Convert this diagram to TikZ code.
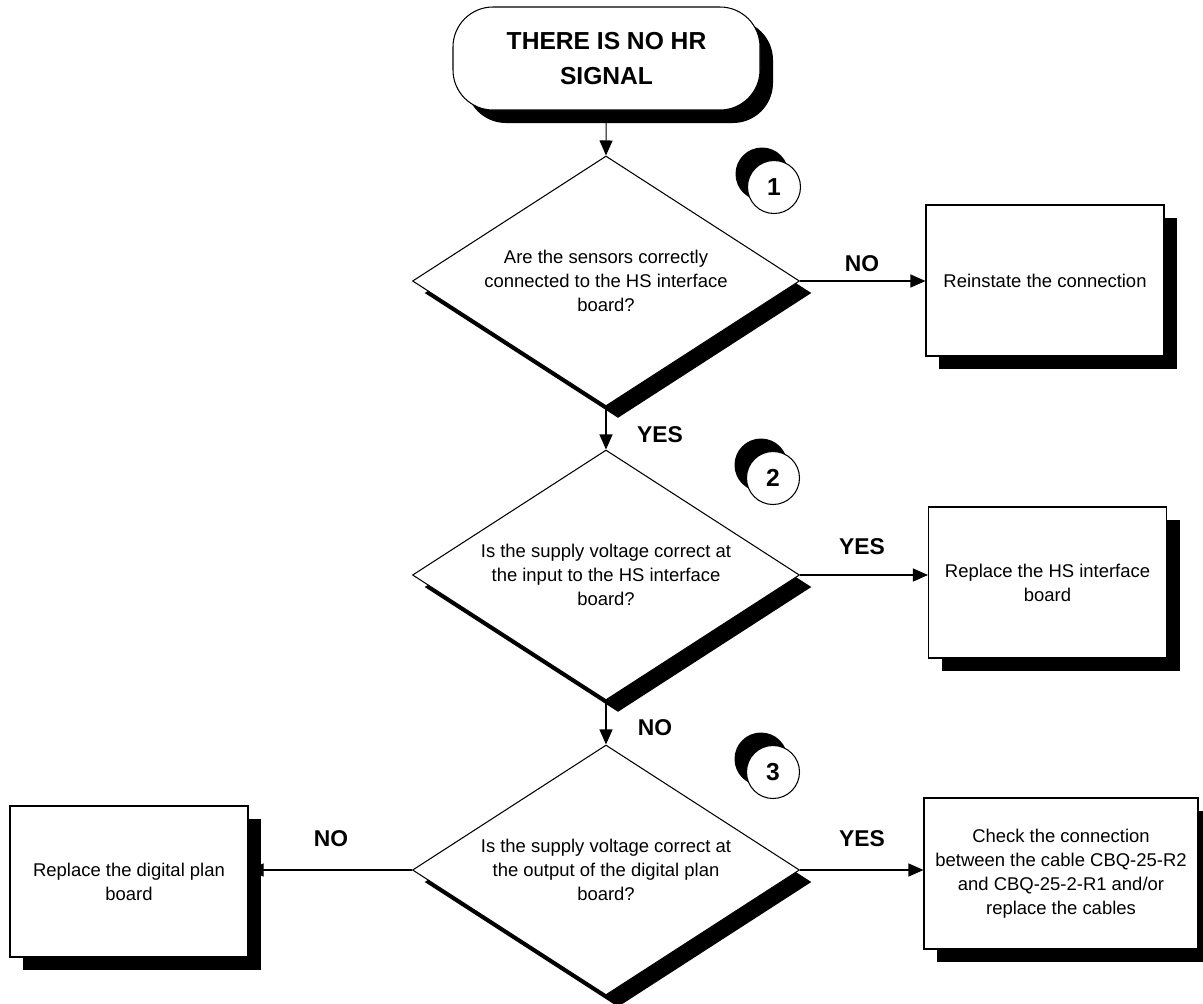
\documentclass[tikz,border=0pt]{standalone}
\usepackage{fontspec}
\setmainfont{Liberation Sans}
\usepackage{tikz}
\usetikzlibrary{shapes.geometric,shadows,arrows.meta}

\begin{document}
\begin{tikzpicture}[
    line width=0.6pt,
    castshadow/.style={drop shadow={shadow xshift=#1, shadow yshift=-#1,
                       fill=black, opacity=1}},
    castshadow/.default=0.26cm,
    start/.style={draw, fill=white, rounded corners=0.8cm, minimum width=6.14cm,
                  minimum height=2.06cm, align=center, castshadow,
                  font=\fontsize{14}{20}\selectfont\bfseries},
    ask/.style={draw, diamond, aspect=1.54, fill=white, minimum width=7.74cm,
                minimum height=5.0cm, inner sep=0pt, align=center, castshadow=0.24cm,
                font=\fontsize{10.5}{13.7}\selectfont},
    box/.style={draw, fill=white, minimum width=#1, minimum height=3.02cm,
                align=center, castshadow, font=\fontsize{10.5}{13.7}\selectfont},
    box/.default=4.76cm,
    num/.style={draw, circle, fill=white, minimum size=1.06cm, inner sep=0pt,
                drop shadow={shadow xshift=-0.24cm, shadow yshift=0.26cm,
                             fill=black, opacity=1},
                font=\fontsize{14}{16}\selectfont\bfseries},
    answer/.style={font=\fontsize{13}{15}\selectfont\bfseries},
    arrow/.style={-{Triangle[length=0.3cm, width=0.26cm]}}
]
    \useasboundingbox (0,0) rectangle (24.06,-20.08);

    % --- Start ---
    \node[start] (nosignal) at (12.13, -1.17) {THERE IS NO HR\\SIGNAL};

    % --- Question 1 ---
    \node[ask] (sensors) at (12.12, -5.62) {Are the sensors correctly\\connected to the HS interface\\board?};
    \node[num] (numA) at (15.48, -3.74) {1};
    \node[box] (reinstate) at (20.9, -5.61) {Reinstate the connection};
    \node[answer] (noA) at (17.24, -5.28) {NO};
    \node[answer] (yesA) at (13.2, -8.7) {YES};

    % --- Question 2 ---
    \node[ask] (inputV) at (12.12, -11.5) {Is the supply voltage correct at\\the input to the HS interface\\board?};
    \node[num] (numB) at (15.46, -9.56) {2};
    \node[box] (hsboard) at (20.95, -11.65) {Replace the HS interface\\board};
    \node[answer] (yesB) at (17.24, -10.94) {YES};
    \node[answer] (noB) at (13.1, -14.56) {NO};

    % --- Question 3 ---
    \node[ask] (outputV) at (12.12, -17.4) {Is the supply voltage correct at\\the output of the digital plan\\board?};
    \node[num] (numC) at (15.46, -15.44) {3};
    \node[box] (planboard) at (2.58, -17.63) {Replace the digital plan\\board};
    \node[box=5.48cm] (cables) at (21.22, -17.47) {Check the connection\\between the cable CBQ-25-R2\\and CBQ-25-2-R1 and/or\\replace the cables};
    \node[answer] (noC) at (6.62, -16.78) {NO};
    \node[answer] (yesC) at (17.24, -16.78) {YES};

    % --- Flow ---
    \draw[arrow] (nosignal) -- (sensors.north);
    \draw[arrow] (sensors.east) -- (sensors.east -| reinstate.west);
    \draw[arrow] (sensors.south) -- (inputV.north);
    \draw[arrow] (inputV.east) -- (inputV.east -| hsboard.west);
    \draw[arrow] (inputV.south) -- (outputV.north);
    \draw[arrow] (outputV.west) -- (outputV.west -| planboard.east);
    \draw[arrow] (outputV.east) -- (outputV.east -| cables.west);
\end{tikzpicture}
\end{document}
